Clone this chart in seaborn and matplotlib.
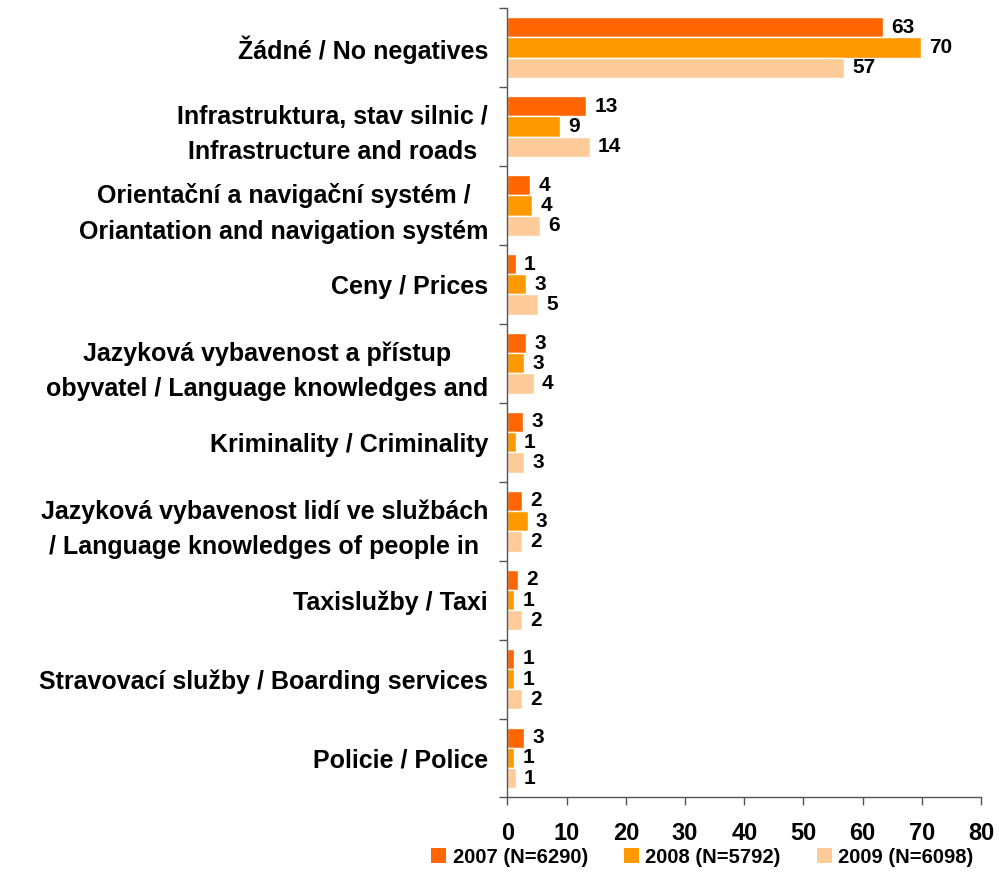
import matplotlib
matplotlib.use('Agg')
import matplotlib.pyplot as plt
from matplotlib.patches import Patch
import seaborn as sns
import pandas as pd

categories = [
    'Žádné / No negatives',
    'Infrastruktura, stav silnic /\nInfrastructure and roads',
    'Orientační a navigační systém /\nOriantation and navigation systém',
    'Ceny / Prices',
    'Jazyková vybavenost a přístup\nobyvatel / Language knowledges and',
    'Kriminality / Criminality',
    'Jazyková vybavenost lidí ve službách\n/ Language knowledges of people in',
    'Taxislužby / Taxi',
    'Stravovací služby / Boarding services',
    'Policie / Police',
]
years = ['2007 (N=6290)', '2008 (N=5792)', '2009 (N=6098)']
v2007 = [63.4, 13.3, 3.8, 1.4, 3.1, 2.6, 2.4, 1.8, 1.1, 2.8]
v2008 = [69.9, 8.9, 4.2, 3.1, 2.8, 1.4, 3.4, 1.1, 1.1, 1.1]
v2009 = [56.8, 13.9, 5.5, 5.2, 4.4, 2.8, 2.4, 2.4, 2.4, 1.4]
colors = ['#FF6600', '#FF9900', '#FFCC99']

df = pd.DataFrame({
    'Category': categories * 3,
    'Year': [y for y in years for _ in categories],
    'Value': v2007 + v2008 + v2009,
})

sns.set_style('white')
plt.rcParams['font.family'] = ['Liberation Sans', 'DejaVu Sans']
plt.rcParams['text.color'] = 'black'
plt.rcParams['xtick.labelcolor'] = 'black'
plt.rcParams['ytick.labelcolor'] = 'black'

fig = plt.figure(figsize=(9.99, 8.94), dpi=100)
ax = fig.add_axes([0.508, 0.108, 0.474, 0.883])

sns.barplot(data=df, y='Category', x='Value', hue='Year', orient='h',
            palette=colors, width=0.77, saturation=1, ax=ax, legend=False,
            errorbar=None)

# value labels rounded like the original
for cont in ax.containers:
    ax.bar_label(cont, fmt='%.0f', padding=6, fontsize=15, fontweight='bold',
                 color='black')

ax.set_xlim(0, 80)
ax.set_ylim(9.5, -0.5)
ax.set_xticks(range(0, 81, 10))
ax.set_xlabel('')
ax.set_ylabel('')
ax.set_yticks(range(len(categories)))
ax.set_yticklabels(categories, fontsize=18, fontweight='bold',
                   multialignment='center', linespacing=1.6)
ax.set_yticks([i - 0.5 for i in range(len(categories) + 1)], minor=True)
ax.tick_params(axis='y', which='major', length=0, pad=14)
ax.tick_params(axis='y', which='minor', length=6, width=1, color='#555555', direction='out', left=True)
ax.tick_params(axis='x', length=6, width=1, color='#555555', direction='out', bottom=True, pad=12)
for lbl in ax.get_xticklabels():
    lbl.set_fontsize(17)
    lbl.set_fontweight('bold')

sns.despine(ax=ax)
for s in ['left', 'bottom']:
    ax.spines[s].set_color('#555555')
    ax.spines[s].set_linewidth(1)

handles = [Patch(facecolor=c, edgecolor='none') for c in colors]
fig.legend(handles, years, loc='center', bbox_to_anchor=(0.703, 0.041), ncol=3,
           frameon=False, handlelength=0.75, handleheight=0.75, handletextpad=0.3,
           columnspacing=1.8, prop={'size': 14.5, 'weight': 'bold'})

fig.savefig('out.png', dpi=100)
